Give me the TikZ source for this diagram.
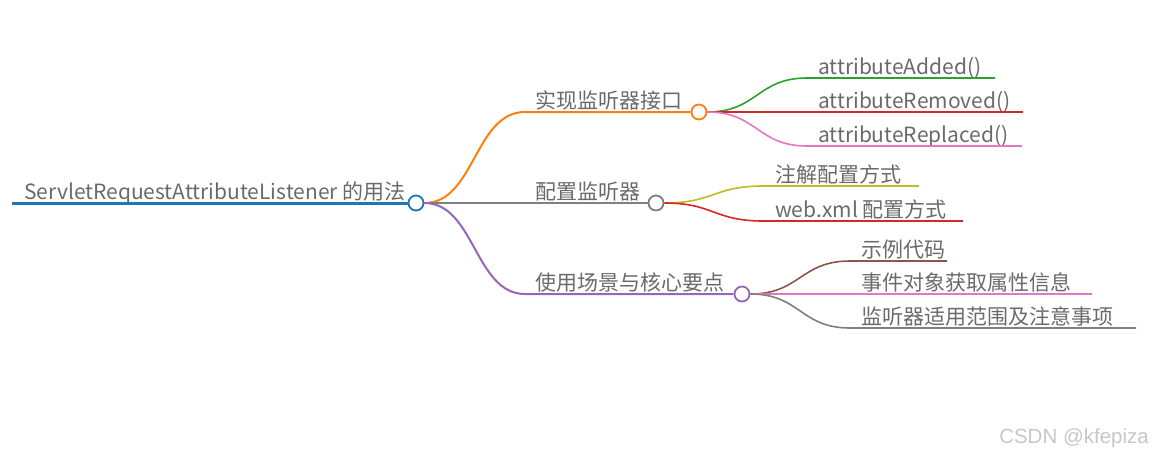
\documentclass[tikz,border=0pt]{standalone}
\usepackage{fontspec}
\setmainfont{Noto Sans CJK SC}
\newfontfamily\markfont{Liberation Sans}
\usepackage{tikz}
\usetikzlibrary{calc}
\definecolor{cblue}{HTML}{1F77B4}
\definecolor{corange}{HTML}{FF7F0E}
\definecolor{cgreen}{HTML}{2CA02C}
\definecolor{cred}{HTML}{D62728}
\definecolor{cpurple}{HTML}{9467BD}
\definecolor{cbrown}{HTML}{8C564B}
\definecolor{cpink}{HTML}{E377C2}
\definecolor{cgray}{HTML}{7F7F7F}
\definecolor{colive}{HTML}{BCBD22}
\definecolor{textgray}{HTML}{6A6A6A}

\begin{document}
\begin{tikzpicture}[
    x=1pt, y=-1pt,
    font=\fontsize{21}{25}\selectfont,
    label/.style={anchor=base west, inner sep=0pt, text=textgray},
    dot/.style={circle, draw=#1, fill=white, line width=1.8pt, minimum size=15pt, inner sep=0pt},
    link/.style={to path={let \p1=(\tikztostart), \p2=(\tikztotarget) in
        .. controls ({(\x1+\x2)/2},\y1) and ({(\x1+\x2)/2},\y2) .. (\tikztotarget)}},
    branch/.style={line width=2pt},
    leaf/.style={line width=1.6pt}
]
\useasboundingbox (0,0) rectangle (1154,458);

\node[dot=cblue] (root) at (416,203) {};
\node[dot=corange] (impl) at (699,112) {};
\node[dot=cgray] (config) at (656,203) {};
\node[dot=cpurple] (usage) at (742,294) {};

\coordinate (root-s) at (12,203);
\coordinate (impl-s) at (525,112);
\coordinate (config-s) at (525,203);
\coordinate (usage-s) at (525,294);

\coordinate (added-s) at (807,78);     \coordinate (added-e) at (995,78);
\coordinate (removed-s) at (807,112);  \coordinate (removed-e) at (1023,112);
\coordinate (replaced-s) at (807,146); \coordinate (replaced-e) at (1022,146);
\coordinate (anno-s) at (763,186);     \coordinate (anno-e) at (919,186);
\coordinate (webxml-s) at (763,221);   \coordinate (webxml-e) at (963,221);
\coordinate (sample-s) at (850,261);   \coordinate (sample-e) at (947,261);
\coordinate (event-s) at (850,294);    \coordinate (event-e) at (1092,294);
\coordinate (range-s) at (850,328);    \coordinate (range-e) at (1136,328);

\node[label] (root-t) at (24,199) {ServletRequestAttributeListener 的用法};
\node[label] (impl-t) at (535,108) {实现监听器接口};
\node[label] (config-t) at (535,199) {配置监听器};
\node[label] (usage-t) at (535,290) {使用场景与核心要点};
\node[label] (added-t) at (818,74) {attributeAdded()};
\node[label] (removed-t) at (818,108) {attributeRemoved()};
\node[label] (replaced-t) at (818,142) {attributeReplaced()};
\node[label] (anno-t) at (775,182) {注解配置方式};
\node[label] (webxml-t) at (775,217) {web.xml 配置方式};
\node[label] (sample-t) at (861,257) {示例代码};
\node[label] (event-t) at (861,290) {事件对象获取属性信息};
\node[label] (range-t) at (861,324) {监听器适用范围及注意事项};
\node[anchor=base east, inner sep=0pt, text=black!22, font=\markfont\fontsize{20.5}{23}\selectfont] (mark) at (1149,443) {CSDN @kfepiza};

\draw[cblue, line width=3pt] (root-s) -- (root);
\draw[corange, branch] (root.east) to[link] (impl-s) -- (impl);
\draw[cgray, branch] (root.east) to[link] (config-s) -- (config);
\draw[cpurple, branch] (root.east) to[link] (usage-s) -- (usage);

\draw[cgreen, leaf] (impl.east) to[link] (added-s) -- (added-e);
\draw[cred, leaf] (impl.east) to[link] (removed-s) -- (removed-e);
\draw[cpink, leaf] (impl.east) to[link] (replaced-s) -- (replaced-e);
\draw[colive, leaf] (config.east) to[link] (anno-s) -- (anno-e);
\draw[cred, leaf] (config.east) to[link] (webxml-s) -- (webxml-e);
\draw[cbrown, leaf] (usage.east) to[link] (sample-s) -- (sample-e);
\draw[cpink, leaf] (usage.east) to[link] (event-s) -- (event-e);
\draw[cgray, leaf] (usage.east) to[link] (range-s) -- (range-e);
\end{tikzpicture}
\end{document}
